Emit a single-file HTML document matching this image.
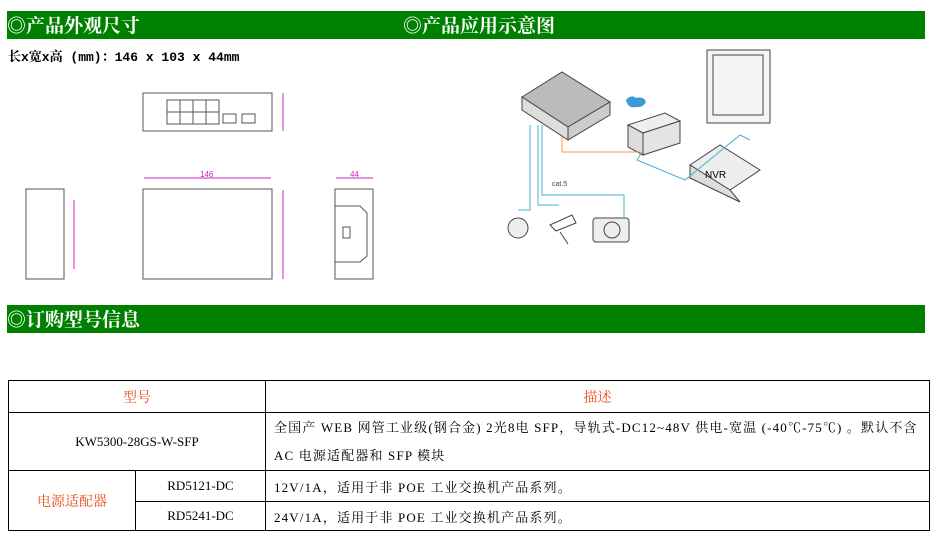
<!DOCTYPE html>
<html><head><meta charset="utf-8"><style>
body{margin:0;width:943px;height:540px;background:#fff;position:relative;overflow:hidden;font-family:"Liberation Serif","Noto Serif CJK SC",serif}
.bar{position:absolute;left:7px;width:918px;background:#008000;color:#fff;font-size:19px;font-weight:bold;line-height:28px;font-family:"Noto Serif CJK SC",serif}
table{position:absolute;left:8px;top:380px;width:922px;border-collapse:collapse;font-size:13px;font-family:"Liberation Serif","Noto Serif CJK SC",serif}
td{border:1px solid #000;padding:0 0 0 8px}
.c{text-align:center;padding:0}
.r{color:#e8501c;font-size:14px}
.d{letter-spacing:1.15px;white-space:nowrap}
</style></head><body>
<div class="bar" style="top:11px">◎产品外观尺寸<span style="position:absolute;left:396px">◎产品应用示意图</span></div>
<div style="position:absolute;left:8px;top:46px;font-size:13px;font-weight:bold;font-family:'Liberation Mono','Noto Serif CJK SC',monospace">长x宽x高 (mm)：146 x 103 x 44mm</div>
<svg style="position:absolute;left:0;top:0" width="943" height="300">
<g fill="none" stroke="#555" stroke-width="1">
<rect x="143" y="93" width="129" height="38"/>
<rect x="167" y="100" width="52" height="24"/>
<path d="M167 112h52M180 100v24M193 100v24M206 100v24"/>
<rect x="223" y="114" width="13" height="9"/><rect x="242" y="114" width="13" height="9"/>
<rect x="143" y="189" width="129" height="90"/>
<rect x="26" y="189" width="38" height="90"/>
<rect x="335" y="189" width="38" height="90"/>
<path d="M335 206h25l7 7v43l-7 6h-25"/><rect x="343" y="227" width="7" height="11"/>
</g>
<g stroke="#d020c0" stroke-width="1" fill="#d020c0" font-size="8" font-family="Liberation Sans">
<line x1="283" y1="93" x2="283" y2="131"/><line x1="144" y1="178" x2="271" y2="178"/>
<line x1="283" y1="190" x2="283" y2="279"/><line x1="74" y1="200" x2="74" y2="269"/>
<line x1="336" y1="178" x2="373" y2="178"/>
<text x="200" y="177" stroke="none">146</text><text x="350" y="177" stroke="none">44</text>
</g>
<g fill="none" stroke="#444">
<polygon points="522,97 562,72 610,102 568,127" fill="#bbb"/>
<polygon points="522,97 568,127 568,140 522,110" fill="#ddd"/>
<polygon points="568,127 610,102 610,115 568,140" fill="#ccc"/>
<rect x="707" y="50" width="63" height="73" fill="#f4f4f4"/><rect x="713" y="55" width="50" height="60"/>
<polygon points="628,125 665,113 680,121 643,133" fill="#eee"/>
<polygon points="628,125 643,133 643,155 628,147" fill="#ddd"/><polygon points="643,133 680,121 680,143 643,155" fill="#e4e4e4"/>
<polygon points="690,165 720,145 760,170 730,190" fill="#eee"/>
<polygon points="690,165 730,190 740,202 690,178" fill="#ddd"/>
<circle cx="518" cy="228" r="10" fill="#eee"/><rect x="593" y="218" width="36" height="24" rx="3" fill="#eee"/><circle cx="612" cy="230" r="8"/>
<path d="M550 225l22-10 4 8-20 8zM560 232l8 12"/>
</g>
<text x="705" y="178" font-size="10" font-family="Liberation Sans">NVR</text>
<path d="M626 100q5-6 10-2q8-2 10 4q-3 6-10 5q-8 2-10-7z" fill="#3a9ad9"/>
<g stroke="#4ab0d0" fill="none"><path d="M530 125v85h-12M538 125v80h21M542 125v70h82v23M642 152l-5 8 48 20 55-45 10 5"/></g>
<path d="M562 137v15h78" stroke="#f39a4a" fill="none"/>
<text x="552" y="186" font-size="7" font-family="Liberation Sans" fill="#444">cat.5</text>
</svg>
<div class="bar" style="top:305px">◎订购型号信息</div>
<table>
<tr style="height:32px"><td class="c r" colspan="2">型号</td><td class="c r">描述</td></tr>
<tr style="height:58px"><td class="c" colspan="2">KW5300-28GS-W-SFP</td><td class="d" style="line-height:28px">全国产 WEB 网管工业级(钢合金) 2光8电 SFP，导轨式-DC12~48V 供电-宽温 (-40℃-75℃) 。默认不含<br>AC 电源适配器和 SFP 模块</td></tr>
<tr style="height:31px"><td class="c r" rowspan="2" style="width:126px">电源适配器</td><td class="c" style="width:129px">RD5121-DC</td><td class="d">12V/1A，适用于非 POE 工业交换机产品系列。</td></tr>
<tr style="height:29px"><td class="c">RD5241-DC</td><td class="d">24V/1A，适用于非 POE 工业交换机产品系列。</td></tr>
</table>
</body></html>
